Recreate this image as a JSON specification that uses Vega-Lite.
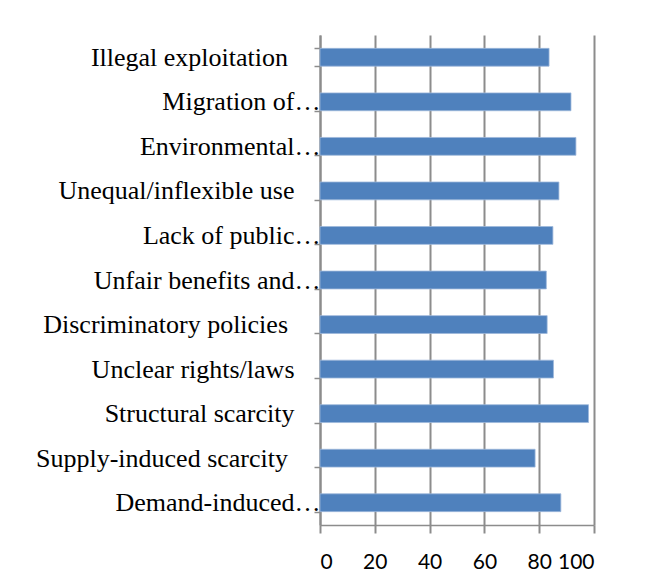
{
  "$schema": "https://vega.github.io/schema/vega-lite/v6.json",
  "autosize": "none",
  "width": 274,
  "height": 490,
  "padding": {"left": 320, "top": 35, "right": 52, "bottom": 61},
  "background": "white",
  "config": {"view": {"stroke": null}},
  "data": {
    "values": [
      {"factor": "Illegal exploitation\u00a0\u00a0\u00a0\u00a0\u00a0\u200b", "value": 83.6},
      {"factor": "Migration of…", "value": 91.6},
      {"factor": "Environmental…", "value": 93.4},
      {"factor": "Unequal/inflexible use\u00a0\u00a0\u00a0\u00a0\u200b", "value": 87.2},
      {"factor": "Lack of public…", "value": 85.0},
      {"factor": "Unfair benefits and…", "value": 82.6},
      {"factor": "Discriminatory policies\u00a0\u00a0\u00a0\u00a0\u00a0\u200b", "value": 82.9},
      {"factor": "Unclear rights/laws\u00a0\u00a0\u00a0\u00a0\u200b", "value": 85.2},
      {"factor": "Structural scarcity\u00a0\u00a0\u00a0\u00a0\u200b", "value": 98.0},
      {"factor": "Supply-induced scarcity\u00a0\u00a0\u00a0\u00a0\u00a0\u200b", "value": 78.5},
      {"factor": "Demand-induced…", "value": 87.9}
    ]
  },
  "mark": {"type": "bar", "color": "#4F81BD", "stroke": "#9DB7DA", "strokeWidth": 0.8},
  "encoding": {
    "y": {
      "field": "factor",
      "type": "nominal",
      "sort": null,
      "scale": {"paddingInner": 0.6, "paddingOuter": 0.3},
      "axis": {
        "title": null,
        "domain": true,
        "domainColor": "#8c8c8c",
        "domainWidth": 2,
        "ticks": true,
        "tickBand": "extent",
        "tickColor": "#8c8c8c",
        "tickWidth": 1.5,
        "tickSize": 6,
        "labelPadding": -6,
        "labelLimit": 400,
        "labelFont": "Liberation Serif",
        "labelFontSize": 26,
        "labelColor": "#000000",
        "grid": false
      }
    },
    "x": {
      "field": "value",
      "type": "quantitative",
      "scale": {"domain": [0, 100], "nice": false},
      "axis": {
        "title": null,
        "values": [0, 20, 40, 60, 80, 100],
        "grid": true,
        "gridColor": "#8c8c8c",
        "gridWidth": 2,
        "domain": true,
        "domainColor": "#8c8c8c",
        "domainWidth": 1.5,
        "ticks": true,
        "tickColor": "#8c8c8c",
        "tickWidth": 2,
        "tickSize": 8,
        "labelPadding": 18,
        "labelFont": "Lato",
        "labelFontSize": 21,
        "labelColor": "#000000"
      }
    }
  }
}
